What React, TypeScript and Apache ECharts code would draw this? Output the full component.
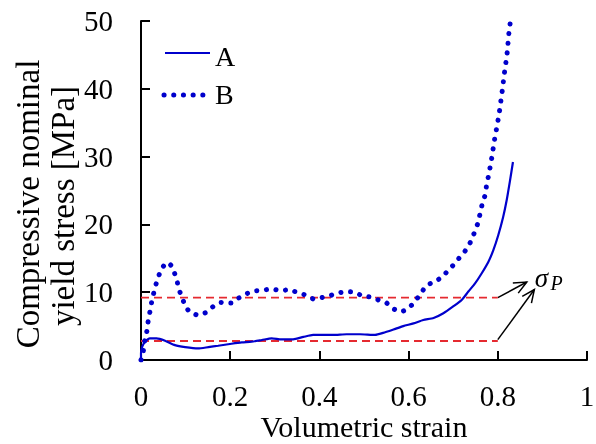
import React, { useEffect, useRef } from 'react';
import * as echarts from 'echarts';

// Series A (solid): volumetric strain vs compressive nominal yield stress [MPa]
const strainA = [0, 0.0, 0.003, 0.009, 0.02, 0.035, 0.054, 0.076, 0.099, 0.128, 0.151, 0.173, 0.203, 0.226, 0.248, 0.271, 0.293, 0.315, 0.341, 0.364, 0.386, 0.431, 0.461, 0.491, 0.525, 0.543, 0.566, 0.588, 0.611, 0.633, 0.656, 0.678, 0.7, 0.719, 0.734, 0.749, 0.764, 0.779, 0.79, 0.801, 0.812, 0.82, 0.827, 0.834];
const stressA = [0, 1.0, 2.0, 2.7, 3.2, 3.2, 2.85, 2.2, 1.9, 1.7, 1.9, 2.1, 2.4, 2.6, 2.7, 2.95, 3.2, 3.05, 3.05, 3.4, 3.7, 3.7, 3.8, 3.8, 3.7, 4.0, 4.5, 5.0, 5.4, 5.9, 6.2, 6.9, 7.9, 8.85, 10.1, 11.3, 12.8, 14.5, 16.2, 18.4, 21.1, 23.6, 26.3, 29.2];

// Series B (dotted)
const strainB = [0, 0.005, 0.008, 0.013, 0.016, 0.02, 0.024, 0.029, 0.035, 0.044, 0.055, 0.062, 0.07, 0.08, 0.085, 0.093, 0.099, 0.11, 0.127, 0.146, 0.162, 0.179, 0.203, 0.218, 0.237, 0.256, 0.274, 0.293, 0.313, 0.333, 0.349, 0.368, 0.386, 0.405, 0.424, 0.442, 0.461, 0.48, 0.497, 0.516, 0.534, 0.551, 0.567, 0.582, 0.592, 0.607, 0.627, 0.637, 0.652, 0.663, 0.678, 0.691, 0.702, 0.714, 0.726, 0.738, 0.747, 0.755, 0.76, 0.765, 0.772, 0.775, 0.78, 0.784, 0.788, 0.791, 0.795, 0.799, 0.803, 0.806, 0.809, 0.812, 0.815, 0.818, 0.821, 0.823, 0.825, 0.828];
const stressB = [0, 1.2, 2.7, 4.2, 5.7, 7.1, 8.6, 10.0, 11.5, 13.2, 14.3, 14.3, 13.8, 11.9, 10.4, 9.1, 7.9, 7.0, 6.6, 7.0, 7.9, 8.5, 8.4, 9.1, 9.8, 10.2, 10.3, 10.5, 10.2, 10.4, 10.0, 9.6, 9.0, 9.2, 9.5, 9.9, 10.1, 10.0, 9.4, 9.3, 8.8, 8.4, 7.5, 7.1, 7.3, 8.1, 9.7, 10.8, 11.4, 11.7, 12.4, 13.4, 14.1, 15.1, 16.0, 17.3, 18.7, 20.1, 21.5, 23.0, 24.4, 25.9, 27.4, 28.9, 30.4, 31.9, 33.3, 34.8, 36.3, 37.8, 39.2, 40.8, 42.4, 43.8, 45.3, 46.8, 48.3, 49.8];

// Plateau stress levels (red dashed) and their strain range
const plateauLevels = [9.2, 2.8];
const plateauRange = [0, 0.8];

// Annotation arrows (data coordinates): start -> end
const arrowStarts = [[0.8, 9.2], [0.8, 3.0]];
const arrowEnds = [[0.865, 11.5], [0.882, 10.4]];
const sigmaLabelAt = [0.907, 12.1];

const FONT = '"Liberation Serif", "Times New Roman", serif';
const BLUE = '#0000cc';
const RED = '#e52a30';

function zip(xs: number[], ys: number[]) {
  return xs.map((x, i) => [x, ys[i]]);
}

export default function App() {
  const ref = useRef<HTMLDivElement>(null);
  useEffect(() => {
    if (!ref.current) return;
    const chart = echarts.init(ref.current, undefined, { renderer: 'svg' });
    const plateauSeries = plateauLevels.map((lv, i) => ({
      name: 'plateau' + i,
      type: 'line',
      silent: true,
      symbol: 'none',
      data: [[plateauRange[0], lv], [plateauRange[1], lv]],
      lineStyle: { color: RED, width: 1.8, type: [8, 5] },
      z: 1,
    }));
    chart.setOption({
      animation: false,
      textStyle: { fontFamily: FONT },
      grid: { left: 141, right: 9, top: 21, bottom: 84, containLabel: false, outerBoundsMode: 'none' },
      xAxis: {
        type: 'value',
        min: 0,
        max: 1,
        interval: 0.2,
        name: 'Volumetric strain',
        nameLocation: 'middle',
        nameGap: 51,
        nameMoveOverlap: false,
        nameTextStyle: { fontFamily: FONT, fontSize: 30, color: '#000' },
        axisLine: { lineStyle: { color: '#000', width: 2 } },
        axisTick: { inside: true, length: 9, lineStyle: { color: '#000', width: 2 } },
        axisLabel: { fontFamily: FONT, fontSize: 29, color: '#000', margin: 21 },
        splitLine: { show: false },
      },
      yAxis: {
        type: 'value',
        min: 0,
        max: 50,
        interval: 10,
        axisLine: { show: true, lineStyle: { color: '#000', width: 2 } },
        axisTick: { show: true, inside: true, length: 9, lineStyle: { color: '#000', width: 2 } },
        axisLabel: { fontFamily: FONT, fontSize: 29, color: '#000', margin: 28 },
        splitLine: { show: false },
      },
      series: [
        ...plateauSeries,
        {
          name: 'A',
          type: 'line',
          symbol: 'none',
          smooth: 0.2,
          data: zip(strainA, stressA),
          lineStyle: { color: BLUE, width: 2.2 },
          z: 3,
        },
        {
          name: 'B',
          type: 'line',
          symbol: 'none',
          data: zip(strainB, stressB),
          lineStyle: { color: BLUE, width: 5, type: [0.1, 9.6], cap: 'round' },
          z: 2,
        },
      ],
    });

    const graphics: any[] = [];
    const headLen = 14;
    const headAng = (24 * Math.PI) / 180;
    arrowStarts.forEach((s, i) => {
      const p0 = chart.convertToPixel({ gridIndex: 0 }, s) as number[];
      const p1 = chart.convertToPixel({ gridIndex: 0 }, arrowEnds[i]) as number[];
      const th = Math.atan2(p1[1] - p0[1], p1[0] - p0[0]);
      const l = [p1[0] - headLen * Math.cos(th - headAng), p1[1] - headLen * Math.sin(th - headAng)];
      const r = [p1[0] - headLen * Math.cos(th + headAng), p1[1] - headLen * Math.sin(th + headAng)];
      graphics.push({
        type: 'line',
        shape: { x1: p0[0], y1: p0[1], x2: p1[0], y2: p1[1] },
        style: { stroke: '#000', lineWidth: 1.5 },
      });
      graphics.push({
        type: 'polyline',
        shape: { points: [l, p1, r] },
        style: { stroke: '#000', lineWidth: 1.5, fill: null },
      });
    });
    const sp = chart.convertToPixel({ gridIndex: 0 }, sigmaLabelAt) as number[];
    graphics.push({
      type: 'text',
      x: sp[0] - 4,
      y: sp[1],
      style: { text: 'σ', font: `italic 27px ${FONT}`, fill: '#000', textAlign: 'center', textVerticalAlign: 'middle' },
    });
    graphics.push({
      type: 'text',
      x: sp[0] + 11,
      y: sp[1] + 5,
      style: { text: 'P', font: `italic 20px ${FONT}`, fill: '#000', textAlign: 'center', textVerticalAlign: 'middle' },
    });
    // Legend
    graphics.push({
      type: 'line',
      shape: { x1: 165, y1: 53, x2: 210, y2: 53 },
      style: { stroke: BLUE, lineWidth: 2.2 },
    });
    graphics.push({
      type: 'text',
      x: 215,
      y: 56,
      style: { text: 'A', font: `28px ${FONT}`, fill: '#000', textAlign: 'left', textVerticalAlign: 'middle' },
    });
    graphics.push({
      type: 'line',
      shape: { x1: 164, y1: 95, x2: 206, y2: 95 },
      style: { stroke: BLUE, lineWidth: 5, lineDash: [0.1, 9.6], lineCap: 'round' },
    });
    graphics.push({
      type: 'text',
      x: 215,
      y: 94.5,
      style: { text: 'B', font: `28px ${FONT}`, fill: '#000', textAlign: 'left', textVerticalAlign: 'middle' },
    });
    // Y-axis title (two lines, rotated)
    graphics.push({
      type: 'text',
      x: 28,
      y: 204,
      rotation: Math.PI / 2,
      style: { text: 'Compressive nominal', font: `33px ${FONT}`, fill: '#000', textAlign: 'center', textVerticalAlign: 'middle' },
    });
    graphics.push({
      type: 'text',
      x: 63,
      y: 206,
      rotation: Math.PI / 2,
      style: { text: 'yield stress [MPa]', font: `33px ${FONT}`, fill: '#000', textAlign: 'center', textVerticalAlign: 'middle' },
    });
    chart.setOption({ graphic: graphics });
    return () => chart.dispose();
  }, []);
  return <div ref={ref} style={{ position: 'fixed', left: 0, top: 0, width: 596, height: 444 }} />;
}
